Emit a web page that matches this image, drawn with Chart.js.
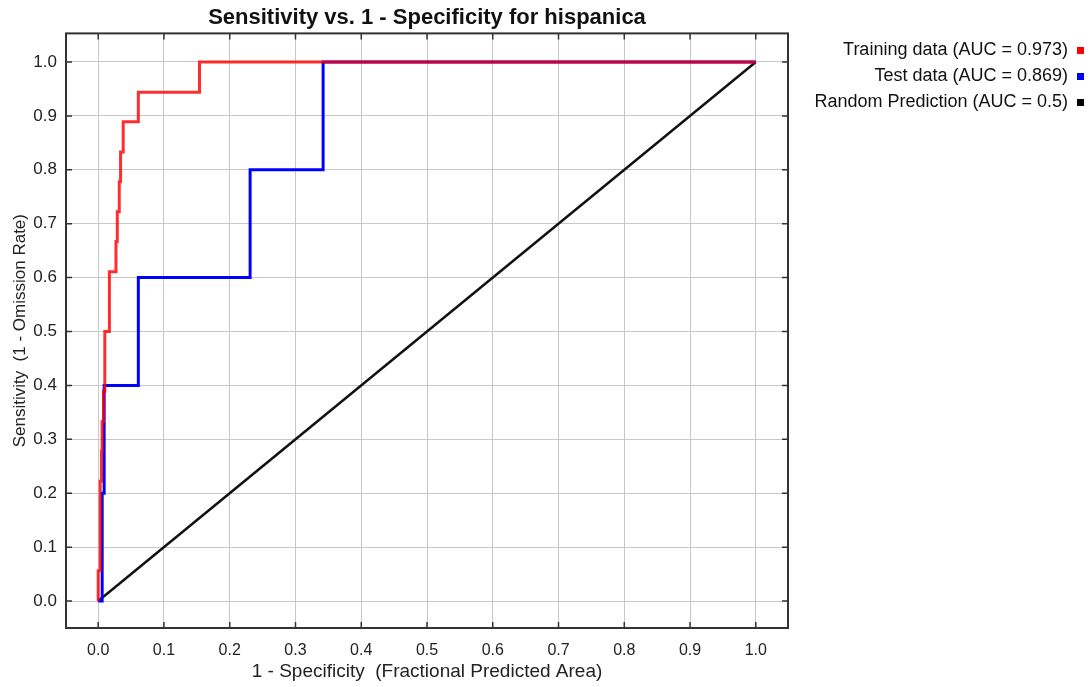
<!DOCTYPE html>
<html>
<head>
<meta charset="utf-8">
<script src="https://cdn.jsdelivr.net/npm/chart.js@4/dist/chart.umd.min.js"></script>
<style>
  body { margin: 0; background: #fff; }
  #wrap { width: 1092px; height: 687px; }
</style>
</head>
<body>
<div id="wrap"><canvas id="rocChart" width="1092" height="687"></canvas></div>
<script>
// ROC curve for hispanica
const trainFPR = [0, 0, 0.003, 0.003, 0.005, 0.005, 0.006, 0.006, 0.008, 0.008, 0.010, 0.010, 0.017, 0.017, 0.027, 0.027, 0.029, 0.029, 0.032, 0.032, 0.034, 0.034, 0.038, 0.038, 0.061, 0.061, 0.154, 0.154, 1.0];
const trainTPR = [0, 0.056, 0.056, 0.222, 0.222, 0.278, 0.278, 0.333, 0.333, 0.389, 0.389, 0.5, 0.5, 0.611, 0.611, 0.667, 0.667, 0.722, 0.722, 0.778, 0.778, 0.833, 0.833, 0.889, 0.889, 0.944, 0.944, 1.0, 1.0];

const testFPR = [0, 0.006, 0.006, 0.009, 0.009, 0.061, 0.061, 0.231, 0.231, 0.342, 0.342, 1.0];
const testTPR = [0, 0, 0.2, 0.2, 0.4, 0.4, 0.6, 0.6, 0.8, 0.8, 1.0, 1.0];

const randomFPR = [0, 1];
const randomTPR = [0, 1];

const seriesLabels = ['Training data (AUC = 0.973)', 'Test data (AUC = 0.869)', 'Random Prediction (AUC = 0.5)'];
const axisTicks = [0, 0.1, 0.2, 0.3, 0.4, 0.5, 0.6, 0.7, 0.8, 0.9, 1.0];

const toPoints = (xs, ys) => xs.map((x, i) => ({ x: x, y: ys[i] }));

const font = "'Liberation Sans', Arial, sans-serif";

// plot frame with inward tick marks on all four sides
const framePlugin = {
    id: 'frame',
    afterDraw(chart) {
        const { ctx, chartArea: a, scales } = chart;
        ctx.save();
        ctx.strokeStyle = '#333';
        ctx.lineWidth = 1.5;
        ctx.beginPath();
        scales.x.ticks.forEach(t => {
            const px = scales.x.getPixelForValue(t.value);
            ctx.moveTo(px, a.bottom); ctx.lineTo(px, a.bottom - 6);
            ctx.moveTo(px, a.top); ctx.lineTo(px, a.top + 6);
        });
        scales.y.ticks.forEach(t => {
            const py = scales.y.getPixelForValue(t.value);
            ctx.moveTo(a.left, py); ctx.lineTo(a.left + 6, py);
            ctx.moveTo(a.right, py); ctx.lineTo(a.right - 6, py);
        });
        ctx.stroke();
        ctx.lineWidth = 2;
        ctx.strokeRect(a.left, a.top, a.right - a.left, a.bottom - a.top);
        ctx.restore();
    }
};

// legend column is wider than its text in the original
const legendWidthPlugin = {
    id: 'legendWidth',
    afterInit(chart) {
        const lg = chart.legend;
        const fit = lg.fit;
        lg.fit = function () {
            fit.call(this);
            this.width = 304;
        };
    }
};

const ctx = document.getElementById('rocChart');

new Chart(ctx, {
    type: 'scatter',
    data: {
        datasets: [
            {
                label: seriesLabels[0],
                data: toPoints(trainFPR, trainTPR),
                showLine: true,
                borderColor: 'rgba(255, 0, 0, 0.82)',
                backgroundColor: '#ff0000',
                borderWidth: 3,
                pointRadius: 0,
                tension: 0
            },
            {
                label: seriesLabels[1],
                data: toPoints(testFPR, testTPR),
                showLine: true,
                borderColor: '#0000ff',
                backgroundColor: '#0000ff',
                borderWidth: 3,
                pointRadius: 0,
                tension: 0
            },
            {
                label: seriesLabels[2],
                data: toPoints(randomFPR, randomTPR),
                showLine: true,
                borderColor: '#111',
                backgroundColor: '#000',
                borderWidth: 2.5,
                pointRadius: 0,
                tension: 0
            }
        ]
    },
    options: {
        responsive: false,
        animation: false,
        layout: { padding: 0 },
        plugins: {
            title: {
                display: true,
                text: 'Sensitivity vs. 1 - Specificity for hispanica',
                fullSize: false,
                color: '#111',
                font: { family: font, size: 22, weight: 'bold' },
                padding: { top: 5, bottom: 2 }
            },
            legend: {
                position: 'right',
                align: 'start',
                fullSize: false,
                rtl: true,
                labels: {
                    color: '#111',
                    font: { family: font, size: 18 },
                    boxWidth: 7,
                    boxHeight: 7,
                    padding: 8,
                    generateLabels(chart) {
                        return Chart.defaults.plugins.legend.labels.generateLabels(chart).map(item => {
                            item.fillStyle = chart.data.datasets[item.datasetIndex].backgroundColor;
                            item.lineWidth = 0;
                            return item;
                        });
                    }
                }
            },
            tooltip: { enabled: false }
        },
        scales: {
            x: {
                type: 'linear',
                min: -0.049,
                max: 1.049,
                afterBuildTicks: s => { s.ticks = axisTicks.map(v => ({ value: v })); },
                afterFit: s => { s.height = 59; },
                grid: { color: '#c8c8c8', lineWidth: 1, drawTicks: false },
                border: { display: false },
                ticks: {
                    color: '#222',
                    padding: 13,
                    font: { family: font, size: 16 },
                    callback: v => v.toFixed(1)
                },
                title: {
                    display: true,
                    text: '1 - Specificity  (Fractional Predicted Area)',
                    color: '#222',
                    font: { family: font, size: 19 },
                    padding: { top: 0, bottom: 4 }
                }
            },
            y: {
                type: 'linear',
                min: -0.05,
                max: 1.053,
                afterBuildTicks: s => { s.ticks = axisTicks.map(v => ({ value: v })); },
                afterFit: s => { s.width = 66; },
                grid: { color: '#c8c8c8', lineWidth: 1, drawTicks: false },
                border: { display: false },
                ticks: {
                    color: '#222',
                    padding: 9,
                    font: { family: font, size: 17 },
                    callback: v => v.toFixed(1)
                },
                title: {
                    display: true,
                    text: 'Sensitivity  (1 - Omission Rate)',
                    color: '#222',
                    font: { family: font, size: 17 },
                    padding: { top: 10, bottom: 0 }
                }
            }
        }
    },
    plugins: [framePlugin, legendWidthPlugin]
});
</script>
</body>
</html>
